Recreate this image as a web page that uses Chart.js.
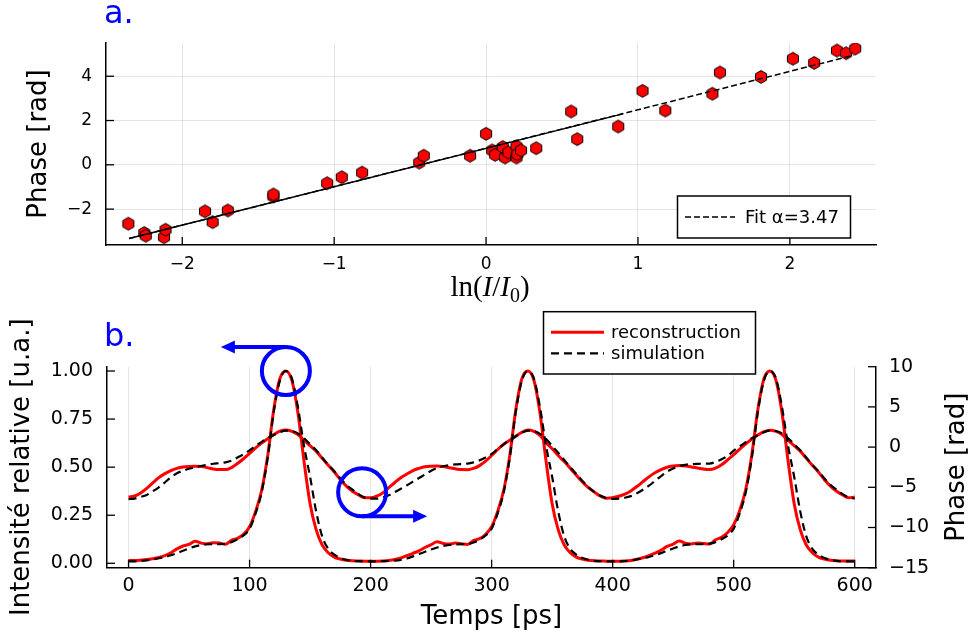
<!DOCTYPE html>
<html>
<head>
<meta charset="utf-8">
<script src="https://cdn.jsdelivr.net/npm/chart.js@4.4.0/dist/chart.umd.min.js"></script>
<style>
  html, body { margin: 0; padding: 0; background: #fff; }
  #wrap { position: relative; width: 971px; height: 637px; }
  canvas { position: absolute; left: 0; }
</style>
</head>
<body>
<div id="wrap">
  <canvas id="fitChart" width="971" height="320" style="top:0"></canvas>
  <canvas id="pulseChart" width="971" height="337" style="top:300px"></canvas>
</div>
<script>
// --- a. : phase vs ln(I/I0)
const lnI = [-2.355, -2.25, -2.24, -2.12, -2.11, -1.85, -1.80, -1.70, -1.40, -1.40,
             -1.046, -0.95, -0.816, -0.44, -0.41, -0.105, 0.0, 0.04, 0.06, 0.11,
             0.125, 0.147, 0.20, 0.20, 0.206, 0.23, 0.33, 0.56, 0.60, 0.87,
             1.03, 1.18, 1.49, 1.54, 1.81, 2.02, 2.16, 2.31, 2.37, 2.43]
const phaseMeas = [-2.66, -3.08, -3.20, -3.27, -2.93, -2.10, -2.59, -2.06, -1.43, -1.34,
                   -0.83, -0.56, -0.35, 0.10, 0.41, 0.41, 1.40, 0.65, 0.45, 0.80,
                   0.33, 0.56, 0.83, 0.33, 0.48, 0.65, 0.75, 2.41, 1.16, 1.73,
                   3.34, 2.45, 3.21, 4.17, 3.97, 4.79, 4.60, 5.16, 5.04, 5.25]
const fitX = [-2.35, 2.42]
const fitY = [-3.33, 4.95]
const fitSolidX = [-2.35, 0.9]
const fitSolidY = [-3.33, 2.30]
const topXTicks = [-2, -1, 0, 1, 2]
const topYTicks = [-2, 0, 2, 4]

// --- b. : intensity and phase vs time
const time = [0, 5, 10, 15, 20, 25, 30, 35, 40, 45,
              50, 55, 60, 65, 70, 75, 80, 85, 90, 95,
              100, 105, 110, 115, 120, 125, 130, 135, 140, 145,
              150, 155, 160, 165, 170, 175, 180, 185, 190, 195,
              200, 205, 210, 215, 220, 225, 230, 235, 240, 245,
              250, 255, 260, 265, 270, 275, 280, 285, 290, 295,
              300, 305, 310, 315, 320, 325, 330, 335, 340, 345,
              350, 355, 360, 365, 370, 375, 380, 385, 390, 395,
              400, 405, 410, 415, 420, 425, 430, 435, 440, 445,
              450, 455, 460, 465, 470, 475, 480, 485, 490, 495,
              500, 505, 510, 515, 520, 525, 530, 535, 540, 545,
              550, 555, 560, 565, 570, 575, 580, 585, 590, 595,
              600]
const recInt = [0.014, 0.014, 0.016, 0.020, 0.024, 0.030, 0.040, 0.055, 0.075, 0.090,
                0.098, 0.115, 0.105, 0.102, 0.107, 0.105, 0.099, 0.120, 0.130, 0.150,
                0.190, 0.270, 0.380, 0.560, 0.800, 0.960, 1.000, 0.950, 0.780, 0.530,
                0.310, 0.175, 0.095, 0.055, 0.032, 0.022, 0.016, 0.013, 0.012, 0.011,
                0.010, 0.010, 0.012, 0.015, 0.020, 0.028, 0.040, 0.052, 0.065, 0.082,
                0.097, 0.112, 0.103, 0.100, 0.105, 0.102, 0.098, 0.118, 0.128, 0.150,
                0.190, 0.270, 0.380, 0.560, 0.800, 0.960, 1.000, 0.950, 0.780, 0.530,
                0.310, 0.175, 0.095, 0.055, 0.032, 0.022, 0.016, 0.013, 0.012, 0.011,
                0.010, 0.010, 0.012, 0.015, 0.021, 0.029, 0.040, 0.053, 0.068, 0.088,
                0.100, 0.116, 0.104, 0.101, 0.106, 0.103, 0.100, 0.122, 0.135, 0.160,
                0.200, 0.275, 0.385, 0.565, 0.800, 0.960, 1.000, 0.950, 0.780, 0.530,
                0.310, 0.175, 0.095, 0.055, 0.032, 0.022, 0.016, 0.013, 0.012, 0.012,
                0.012]
const simInt = [0.010, 0.010, 0.012, 0.015, 0.020, 0.026, 0.033, 0.042, 0.053, 0.065,
                0.077, 0.088, 0.095, 0.099, 0.100, 0.100, 0.102, 0.110, 0.125, 0.145,
                0.180, 0.260, 0.370, 0.550, 0.790, 0.950, 1.000, 0.960, 0.810, 0.610,
                0.450, 0.270, 0.140, 0.075, 0.045, 0.027, 0.018, 0.013, 0.011, 0.010,
                0.010, 0.010, 0.011, 0.012, 0.014, 0.018, 0.025, 0.036, 0.048, 0.060,
                0.072, 0.082, 0.090, 0.095, 0.098, 0.100, 0.100, 0.108, 0.122, 0.145,
                0.180, 0.260, 0.370, 0.550, 0.790, 0.950, 1.000, 0.960, 0.810, 0.610,
                0.450, 0.270, 0.140, 0.075, 0.045, 0.027, 0.018, 0.013, 0.011, 0.010,
                0.010, 0.010, 0.012, 0.015, 0.020, 0.026, 0.033, 0.042, 0.053, 0.065,
                0.077, 0.088, 0.095, 0.099, 0.100, 0.100, 0.102, 0.110, 0.125, 0.145,
                0.180, 0.260, 0.370, 0.550, 0.790, 0.950, 1.000, 0.960, 0.810, 0.610,
                0.450, 0.270, 0.140, 0.075, 0.045, 0.027, 0.018, 0.013, 0.011, 0.010,
                0.010]
const recPh = [-6.22, -6.08, -5.70, -5.13, -4.45, -3.80, -3.30, -2.92, -2.65, -2.48,
               -2.40, -2.38, -2.42, -2.55, -2.73, -2.80, -2.80, -2.55, -2.05, -1.45,
               -0.78, -0.10, 0.50, 1.05, 1.55, 1.98, 2.12, 1.95, 1.55, 0.82,
               0.17, -0.50, -1.40, -2.26, -3.10, -4.05, -4.85, -5.50, -5.95, -6.30,
               -6.30, -6.10, -5.70, -5.05, -4.40, -3.80, -3.35, -2.92, -2.65, -2.45,
               -2.38, -2.36, -2.42, -2.57, -2.70, -2.80, -2.82, -2.65, -2.30, -1.75,
               -1.05, -0.30, 0.35, 0.85, 1.35, 1.85, 2.12, 1.95, 1.45, 0.55,
               -0.20, -1.05, -1.80, -2.65, -3.50, -4.35, -5.05, -5.60, -6.10, -6.35,
               -6.30, -6.12, -5.85, -5.45, -4.90, -4.30, -3.70, -3.20, -2.80, -2.50,
               -2.36, -2.30, -2.36, -2.47, -2.60, -2.72, -2.80, -2.62, -2.20, -1.60,
               -0.95, -0.25, 0.40, 1.00, 1.50, 1.92, 2.10, 1.95, 1.55, 0.82,
               0.17, -0.50, -1.40, -2.26, -3.10, -4.05, -4.85, -5.50, -5.95, -6.30,
               -6.22]
const simPh = [-6.46, -6.40, -6.20, -5.95, -5.50, -5.00, -4.40, -3.75, -3.25, -2.95,
               -2.70, -2.50, -2.35, -2.20, -2.07, -2.00, -1.90, -1.70, -1.30, -0.90,
               -0.40, 0.15, 0.65, 1.10, 1.50, 1.85, 2.05, 2.00, 1.70, 1.10,
               0.35, -0.40, -1.30, -2.20, -3.00, -3.90, -4.70, -5.30, -5.85, -6.25,
               -6.42, -6.42, -6.25, -6.00, -5.60, -5.18, -4.75, -4.30, -3.85, -3.40,
               -2.95, -2.60, -2.38, -2.25, -2.16, -2.10, -2.05, -1.90, -1.65, -1.30,
               -0.85, -0.25, 0.35, 0.90, 1.35, 1.80, 2.05, 2.00, 1.65, 1.00,
               0.15, -0.70, -1.60, -2.50, -3.35, -4.20, -5.00, -5.60, -6.05, -6.35,
               -6.45, -6.42, -6.30, -6.10, -5.75, -5.30, -4.80, -4.20, -3.60, -3.05,
               -2.65, -2.35, -2.20, -2.12, -2.08, -2.07, -2.05, -1.85, -1.50, -1.10,
               -0.45, 0.10, 0.60, 1.10, 1.50, 1.85, 2.05, 2.00, 1.70, 1.10,
               0.35, -0.40, -1.30, -2.20, -3.00, -3.90, -4.70, -5.30, -5.85, -6.25,
               -6.40]
const botXTicks = [0, 100, 200, 300, 400, 500, 600]
const intTicks = [0, 0.25, 0.5, 0.75, 1]
const phTicks = [-15, -10, -5, 0, 5, 10]
// blue marks: circle centre (time, value on its axis), arrow direction
const pointers = [{t: 130, v: 1.0, axis: 'yI', dir: -1}, {t: 193, v: -5.63, axis: 'yP', dir: 1}]

Chart.defaults.font.family = '"DejaVu Sans"'
Chart.defaults.color = '#000'

const GRID = 'rgba(0,0,0,0.1)'
const minus = v => String(v).replace('-', '\u2212')
const pts = (xs, ys) => xs.map((x, i) => ({x: x, y: ys[i]}))
const fixTicks = vals => s => { s.ticks = vals.map(v => ({value: v})) }

// red hexagon marker
const hexagon = (() => {
    const r = 6.4, s = 16
    const c = document.createElement('canvas')
    c.width = s; c.height = s
    const g = c.getContext('2d')
    g.beginPath()
    for (let k = 0; k < 6; k++) {
        const a = -Math.PI / 2 + k * Math.PI / 3
        const px = s / 2 + r * Math.cos(a), py = s / 2 + r * Math.sin(a)
        if (k) g.lineTo(px, py); else g.moveTo(px, py)
    }
    g.closePath()
    g.fillStyle = '#ff0000'
    g.fill()
    g.lineWidth = 1
    g.strokeStyle = '#000'
    g.stroke()
    return c
})()

// tick marks pointing into the plot
const innerTicks = {
    id: 'innerTicks',
    afterDatasetsDraw(chart) {
        const ctx = chart.ctx, a = chart.chartArea
        ctx.save()
        ctx.strokeStyle = '#000'
        ctx.lineWidth = 1.3
        Object.values(chart.scales).forEach(s => {
            s.ticks.forEach(t => {
                const p = s.getPixelForValue(t.value)
                ctx.beginPath()
                if (s.position === 'bottom') { ctx.moveTo(p, a.bottom); ctx.lineTo(p, a.bottom - 8) }
                else if (s.position === 'left') { ctx.moveTo(a.left, p); ctx.lineTo(a.left + 8, p) }
                else { ctx.moveTo(a.right, p); ctx.lineTo(a.right - 8, p) }
                ctx.stroke()
            })
        })
        ctx.restore()
    }
}

function legendBox(ctx, x, y, w, h) {
    ctx.fillStyle = '#fff'
    ctx.fillRect(x, y, w, h)
    ctx.strokeStyle = '#000'
    ctx.lineWidth = 1.5
    ctx.setLineDash([])
    ctx.strokeRect(x, y, w, h)
}

function sample(ctx, x0, x1, y, color, width, dash) {
    ctx.beginPath()
    ctx.strokeStyle = color
    ctx.lineWidth = width
    ctx.setLineDash(dash)
    ctx.moveTo(x0, y)
    ctx.lineTo(x1, y)
    ctx.stroke()
    ctx.setLineDash([])
}

const topDecor = {
    id: 'topDecor',
    afterDraw(chart) {
        const ctx = chart.ctx
        ctx.save()
        ctx.fillStyle = '#0000ff'
        ctx.font = '32px "DejaVu Sans"'
        ctx.textBaseline = 'alphabetic'
        ctx.fillText('a.', 104, 23)

        // ln(I/I0)
        const parts = [
            ['ln(', '29px "Liberation Serif"', 0],
            ['I', 'italic 29px "Liberation Serif"', 0],
            ['/', '29px "Liberation Serif"', 0],
            ['I', 'italic 29px "Liberation Serif"', 0],
            ['0', '20px "Liberation Serif"', 6],
            [')', '29px "Liberation Serif"', 0]
        ]
        let total = 0
        parts.forEach(p => { ctx.font = p[1]; total += ctx.measureText(p[0]).width })
        let x = 490 - total / 2
        ctx.fillStyle = '#000'
        parts.forEach(p => {
            ctx.font = p[1]
            ctx.fillText(p[0], x, 296 + p[2])
            x += ctx.measureText(p[0]).width
        })

        legendBox(ctx, 677.5, 196, 173, 42)
        sample(ctx, 685, 735, 217, '#000', 1.5, [6, 3])
        ctx.fillStyle = '#000'
        ctx.font = '18px "DejaVu Sans"'
        ctx.textBaseline = 'middle'
        ctx.fillText('Fit \u03b1=3.47', 745, 218)
        ctx.restore()
    }
}

const botDecor = {
    id: 'botDecor',
    afterDatasetsDraw(chart) {
        const ctx = chart.ctx, xs = chart.scales.x
        ctx.save()
        ctx.strokeStyle = '#0000ff'
        ctx.fillStyle = '#0000ff'
        ctx.lineWidth = 4
        pointers.forEach(p => {
            const cx = xs.getPixelForValue(p.t), cy = chart.scales[p.axis].getPixelForValue(p.v)
            const r = 24
            ctx.beginPath()
            ctx.arc(cx, cy, r, 0, Math.PI * 2)
            ctx.stroke()
            const ly = cy + p.dir * r
            const tip = cx + p.dir * 65
            ctx.beginPath()
            ctx.moveTo(cx, ly)
            ctx.lineTo(tip - p.dir * 12, ly)
            ctx.stroke()
            ctx.beginPath()
            ctx.moveTo(tip, ly)
            ctx.lineTo(tip - p.dir * 14, ly - 6.5)
            ctx.lineTo(tip - p.dir * 14, ly + 6.5)
            ctx.closePath()
            ctx.fill()
        })
        ctx.restore()
    },
    afterDraw(chart) {
        const ctx = chart.ctx
        ctx.save()
        ctx.fillStyle = '#0000ff'
        ctx.font = '32px "DejaVu Sans"'
        ctx.textBaseline = 'alphabetic'
        ctx.fillText('b.', 104, 46)

        legendBox(ctx, 543.5, 11.7, 212, 62.3)
        sample(ctx, 551, 604, 32.3, '#ff0000', 3, [])
        sample(ctx, 551, 604, 53.3, '#000', 2.2, [8, 5])
        ctx.fillStyle = '#000'
        ctx.font = '18px "DejaVu Sans"'
        ctx.textBaseline = 'middle'
        ctx.fillText('reconstruction', 611, 33)
        ctx.fillText('simulation', 611, 54)

        // right axis title, read bottom to top
        const a = chart.chartArea
        ctx.translate(957, (a.top + a.bottom) / 2)
        ctx.rotate(-Math.PI / 2)
        ctx.font = '26px "DejaVu Sans"'
        ctx.textAlign = 'center'
        ctx.fillText('Phase [rad]', 0, 0)
        ctx.restore()
    }
}

new Chart(document.getElementById('fitChart'), {
    type: 'scatter',
    data: {
        datasets: [{
            label: 'Fit \u03b1=3.47',
            data: pts(fitX, fitY),
            showLine: true,
            borderColor: '#000',
            borderWidth: 1.5,
            borderDash: [6, 3],
            pointRadius: 0,
            order: 0
        }, {
            label: 'fit',
            data: pts(fitSolidX, fitSolidY),
            showLine: true,
            borderColor: '#000',
            borderWidth: 1.5,
            pointRadius: 0,
            order: 1
        }, {
            label: 'mesures',
            data: pts(lnI, phaseMeas),
            pointStyle: hexagon,
            pointRadius: 6,
            order: 2
        }]
    },
    options: {
        responsive: false,
        animation: false,
        layout: {padding: {top: 43, right: 95, left: 0, bottom: 0}},
        plugins: {legend: {display: false}, tooltip: {enabled: false}},
        scales: {
            x: {
                type: 'linear', min: -2.502, max: 2.567,
                afterBuildTicks: fixTicks(topXTicks),
                afterFit: s => { s.height = 75 },
                grid: {color: GRID, drawTicks: false},
                border: {color: '#000', width: 1.5},
                ticks: {font: {size: 17}, padding: 9, maxRotation: 0, callback: v => minus(v)}
            },
            y: {
                type: 'linear', min: -3.62, max: 5.50,
                afterBuildTicks: fixTicks(topYTicks),
                afterFit: s => { s.width = 106 },
                grid: {color: GRID, drawTicks: false},
                border: {color: '#000', width: 1.5},
                ticks: {font: {size: 17}, padding: 14, callback: v => minus(v)},
                title: {display: true, text: 'Phase [rad]', font: {size: 26, lineHeight: 1}, padding: {top: 26, bottom: 0}}
            }
        }
    },
    plugins: [innerTicks, topDecor]
})

new Chart(document.getElementById('pulseChart'), {
    type: 'line',
    data: {
        datasets: [{
            label: 'simulation',
            data: pts(time, simInt),
            yAxisID: 'yI',
            borderColor: '#000',
            borderWidth: 2.2,
            borderDash: [8, 5],
            order: 1
        }, {
            label: 'simulation phase',
            data: pts(time, simPh),
            yAxisID: 'yP',
            borderColor: '#000',
            borderWidth: 2.2,
            borderDash: [8, 5],
            order: 1
        }, {
            label: 'reconstruction',
            data: pts(time, recInt),
            yAxisID: 'yI',
            borderColor: '#ff0000',
            borderWidth: 3,
            order: 2
        }, {
            label: 'reconstruction phase',
            data: pts(time, recPh),
            yAxisID: 'yP',
            borderColor: '#ff0000',
            borderWidth: 3,
            order: 2
        }]
    },
    options: {
        responsive: false,
        animation: false,
        elements: {point: {radius: 0}, line: {cubicInterpolationMode: 'monotone'}},
        layout: {padding: {top: 66.7, right: 0, left: 0, bottom: 0}},
        plugins: {legend: {display: false}, tooltip: {enabled: false}},
        scales: {
            x: {
                type: 'linear', min: -17.8, max: 617.6,
                afterBuildTicks: fixTicks(botXTicks),
                afterFit: s => { s.height = 69.3 },
                grid: {color: GRID, drawTicks: false},
                border: {color: '#000', width: 1.5},
                ticks: {font: {size: 19}, padding: 7, maxRotation: 0},
                title: {display: true, text: 'Temps [ps]', font: {size: 26, lineHeight: 1}, padding: {top: 0, bottom: 7}}
            },
            yI: {
                type: 'linear', position: 'left', min: -0.0229, max: 1.0224,
                afterBuildTicks: fixTicks(intTicks),
                afterFit: s => { s.width = 107 },
                grid: {display: false, drawTicks: false},
                border: {color: '#000', width: 1.5},
                ticks: {font: {size: 19}, padding: 14, callback: v => v.toFixed(2)},
                title: {display: true, text: 'Intensité relative [u.a.]', font: {size: 26, lineHeight: 1}, padding: {top: 9, bottom: 0}}
            },
            yP: {
                type: 'linear', position: 'right', min: -15, max: 10,
                afterBuildTicks: fixTicks(phTicks),
                afterFit: s => { s.width = 95 },
                grid: {display: false, drawTicks: false},
                border: {color: '#000', width: 1.5},
                ticks: {font: {size: 19}, padding: 13, callback: v => minus(v)}
            }
        }
    },
    plugins: [innerTicks, botDecor]
})
</script>
</body>
</html>
